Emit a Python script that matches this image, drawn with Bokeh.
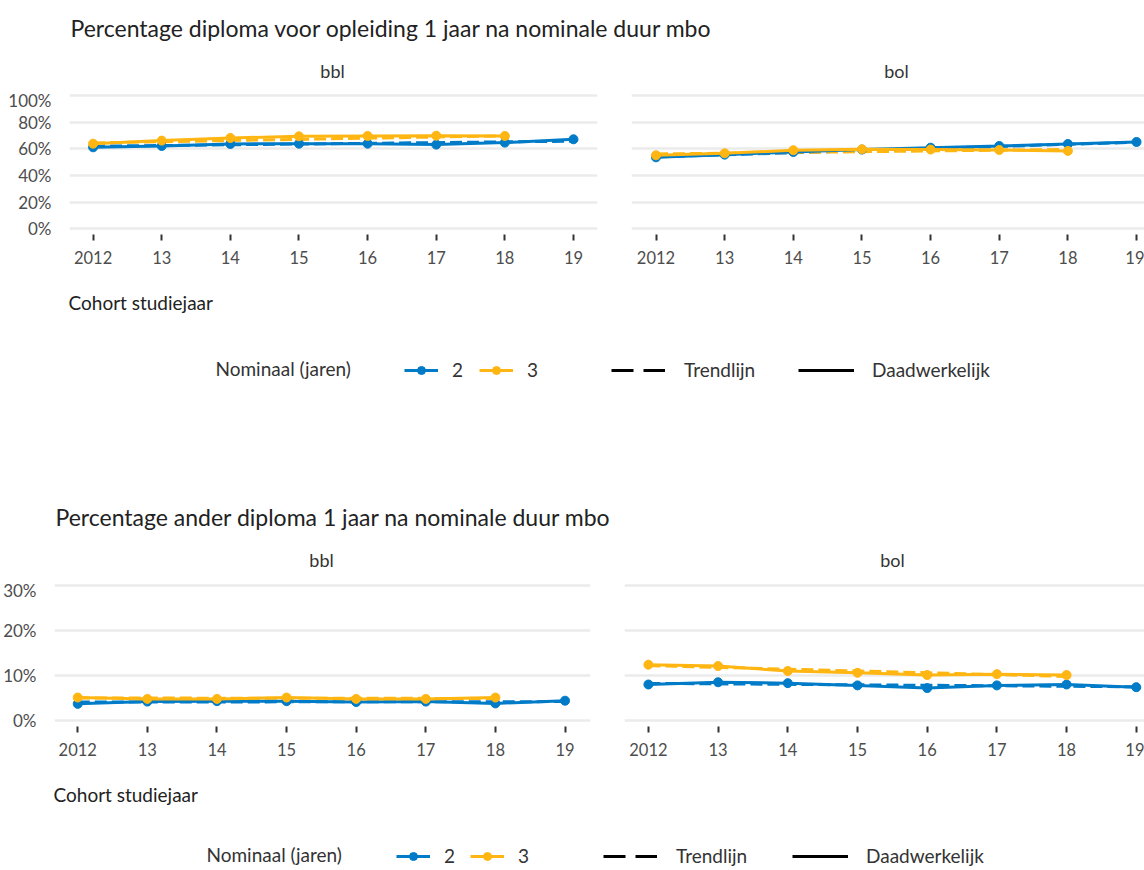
from bokeh.plotting import figure
from bokeh.models import Range1d, FixedTicker, Label, Legend, LegendItem, Grid
from bokeh.layouts import column, row
from bokeh.embed import file_html
from bokeh.resources import INLINE

FONT = "Lato"
BLUE = "#007BC7"
ORANGE = "#FFB612"
GRID = "#EBEBEB"
TEXT = "#222222"
TICK_TEXT = "#4D4D4D"
NAN = float("nan")

# ---------------- data ----------------
years = [2012, 2013, 2014, 2015, 2016, 2017, 2018, 2019]
years_3 = [2012, 2013, 2014, 2015, 2016, 2017, 2018]
year_labels = ["2012", "13", "14", "15", "16", "17", "18", "19"]
trend_years_2 = [2012, 2019]
trend_years_3 = [2012, 2018]
panel_names = ["bbl", "bol"]
legend_title = "Nominaal (jaren)"
legend_nominaal = ["2", "3"]
legend_type = ["Trendlijn", "Daadwerkelijk"]
x_title = "Cohort studiejaar"

# Chart 1: diploma voor opleiding
title_1 = "Percentage diploma voor opleiding 1 jaar na nominale duur mbo"
y_ticks_1 = [0, 20, 40, 60, 80, 100]
y_labels_1 = ["0%", "20%", "40%", "60%", "80%", "100%"]
c1_bbl_2 = [61.2, 62.2, 63.7, 63.9, 63.9, 63.2, 64.7, 67.2]
c1_bbl_3 = [63.9, 66.2, 68.2, 69.4, 69.7, 69.9, 69.7]
c1_bol_2 = [53.7, 55.7, 57.7, 59.5, 60.9, 62.2, 63.7, 65.2]
c1_bol_3 = [55.2, 56.7, 59.0, 59.7, 59.5, 59.2, 58.5]
c1_bbl_2_trend = [62.0, 65.8]
c1_bbl_3_trend = [64.5, 69.8]
c1_bol_2_trend = [54.0, 65.0]
c1_bol_3_trend = [56.2, 59.6]

# Chart 2: ander diploma
title_2 = "Percentage ander diploma 1 jaar na nominale duur mbo"
y_ticks_2 = [0, 10, 20, 30]
y_labels_2 = ["0%", "10%", "20%", "30%"]
c2_bbl_2 = [3.7, 4.2, 4.3, 4.3, 4.1, 4.2, 3.8, 4.4]
c2_bbl_3 = [5.1, 4.8, 4.8, 5.1, 4.8, 4.8, 5.1]
c2_bol_2 = [8.0, 8.5, 8.3, 7.8, 7.2, 7.8, 8.0, 7.4]
c2_bol_3 = [12.4, 12.1, 11.0, 10.6, 10.1, 10.3, 10.1]
c2_bbl_2_trend = [4.1, 4.2]
c2_bbl_3_trend = [5.0, 4.9]
c2_bol_2_trend = [8.25, 7.5]
c2_bol_3_trend = [12.2, 9.8]

W = 1144


def blank(height):
    p = figure(width=W, height=height, x_range=Range1d(0, W), y_range=Range1d(height, 0),
               x_axis_location=None, y_axis_location=None, min_border=0,
               min_border_left=0, min_border_right=0, min_border_top=0, min_border_bottom=0,
               toolbar_location=None, output_backend="svg")
    p.outline_line_color = None
    p.grid.visible = False
    return p


def lab(p, x, y, text, size="16px", align="left", color=TEXT):
    p.add_layout(Label(x=x, y=y, text=text, text_font=FONT, text_font_size=size,
                       text_color=color, text_align=align, text_baseline="middle"))


def header(height, title, tx, ty, sy, bbl_x, bol_x):
    p = blank(height)
    lab(p, tx, ty, title, size="23px", color=TEXT)
    lab(p, bbl_x, sy, panel_names[0], size="18px", align="center", color="#333333")
    lab(p, bol_x, sy, panel_names[1], size="18px", align="center", color="#333333")
    return p


def footer(height, cx, cy, ly, nx, gx2, gx3, gxt, gxd):
    p = blank(height)
    lab(p, cx, cy, x_title, size="19px")
    lab(p, nx, ly - 3, legend_title, size="19px", color="#333333")
    r2l = p.line([NAN], [NAN], line_color=BLUE, line_width=3)
    r2s = p.scatter([NAN], [NAN], size=8, fill_color=BLUE, line_color=BLUE)
    r3l = p.line([NAN], [NAN], line_color=ORANGE, line_width=3)
    r3s = p.scatter([NAN], [NAN], size=8, fill_color=ORANGE, line_color=ORANGE)
    rt = p.line([NAN], [NAN], line_color="black", line_width=3, line_dash="22 10")
    rd = p.line([NAN], [NAN], line_color="black", line_width=3)
    vy = height - ly - 10
    specs = [(gx2, legend_nominaal[0], [r2l, r2s], 34, 14),
             (gx3, legend_nominaal[1], [r3l, r3s], 34, 14),
             (gxt, legend_type[0], [rt], 54, 19),
             (gxd, legend_type[1], [rd], 56, 18)]
    for gx, text, rends, gw, so in specs:
        leg = Legend(items=[LegendItem(label=text, renderers=rends)], location=(gx, vy),
                     orientation="horizontal", glyph_width=gw, glyph_height=20,
                     label_standoff=so, padding=0, margin=0, border_line_color=None,
                     background_fill_alpha=0, label_text_font=FONT,
                     label_text_font_size="19px", label_text_color="#333333")
        p.add_layout(leg)
    return p


def panel(width, height, xr, yr, mbl, mbr, mbb, yticks, ylabels, show_y, series):
    p = figure(width=width, height=height, x_range=Range1d(*xr), y_range=Range1d(*yr),
               output_backend="svg", toolbar_location=None,
               y_axis_location="left" if show_y else None,
               min_border_left=mbl, min_border_right=mbr, min_border_top=0,
               min_border_bottom=mbb)
    p.outline_line_color = None
    p.xgrid.grid_line_color = None
    xa = p.xaxis[0]
    xa.ticker = FixedTicker(ticks=years)
    xa.major_label_overrides = {y: l for y, l in zip(years, year_labels)}
    xa.axis_line_color = None
    xa.major_tick_in = 0
    xa.major_tick_out = 6
    xa.major_tick_line_width = 2
    xa.major_tick_line_color = "#333333"
    xa.minor_tick_line_color = None
    xa.major_label_standoff = 10
    xa.major_label_text_font = FONT
    xa.major_label_text_font_size = "16.5px"
    xa.major_label_text_color = TICK_TEXT
    if show_y:
        ya = p.yaxis[0]
        ya.ticker = FixedTicker(ticks=yticks)
        ya.major_label_overrides = {t: l for t, l in zip(yticks, ylabels)}
        ya.axis_line_color = None
        ya.major_tick_line_color = None
        ya.minor_tick_line_color = None
        ya.major_label_standoff = 12
        ya.major_label_text_font = FONT
        ya.major_label_text_font_size = "17px"
        ya.major_label_text_color = TICK_TEXT
        p.ygrid.grid_line_color = GRID
        p.ygrid.grid_line_width = 2.5
    else:
        p.grid.visible = False
        p.add_layout(Grid(dimension=1, ticker=FixedTicker(ticks=yticks),
                          grid_line_color=GRID, grid_line_width=2.5))
    for xs, ys, txs, tys, color in series:
        p.line(txs, tys, line_color=color, line_width=3, line_dash="12 5")
    for xs, ys, txs, tys, color in series:
        p.line(xs, ys, line_color=color, line_width=3)
        p.scatter(xs, ys, size=9, fill_color=color, line_color=color)
    return p


# ---------------- chart 1 ----------------
h1 = header(89, title_1, 70, 27, 70, 332, 896)
yr1 = (-4.12, 104.49)
l1 = panel(614, 191, (2011.656, 2019.35), yr1, 69, 17, 46, y_ticks_1, y_labels_1, True,
           [(years, c1_bbl_2, trend_years_2, c1_bbl_2_trend, BLUE),
            (years_3, c1_bbl_3, trend_years_3, c1_bbl_3_trend, ORANGE)])
r1 = panel(530, 191, (2011.643, 2019.116), yr1, 17, 0, 46, y_ticks_1, y_labels_1, False,
           [(years, c1_bol_2, trend_years_2, c1_bol_2_trend, BLUE),
            (years_3, c1_bol_3, trend_years_3, c1_bol_3_trend, ORANGE)])
f1 = footer(140, 68, 22, 91, 215, 404, 479, 611, 798)

# ---------------- chart 2 ----------------
h2 = header(159, title_2, 55, 96, 139, 321, 892)
yr2 = (-1.333, 31.333)
l2 = panel(606, 191, (2011.666, 2019.366), yr2, 54, 16, 44, y_ticks_2, y_labels_2, True,
           [(years, c2_bbl_2, trend_years_2, c2_bbl_2_trend, BLUE),
            (years_3, c2_bbl_3, trend_years_3, c2_bbl_3_trend, ORANGE)])
r2 = panel(538, 191, (2011.657, 2019.118), yr2, 18, 0, 44, y_ticks_2, y_labels_2, False,
           [(years, c2_bol_2, trend_years_2, c2_bol_2_trend, BLUE),
            (years_3, c2_bol_3, trend_years_3, c2_bol_3_trend, ORANGE)])
f2 = footer(100, 53, 24, 87, 206, 396, 470, 603, 792)

layout = column(h1, row(l1, r1, spacing=0), f1, h2, row(l2, r2, spacing=0), f2, spacing=0)

open("out.html", "w").write(file_html(layout, INLINE))
